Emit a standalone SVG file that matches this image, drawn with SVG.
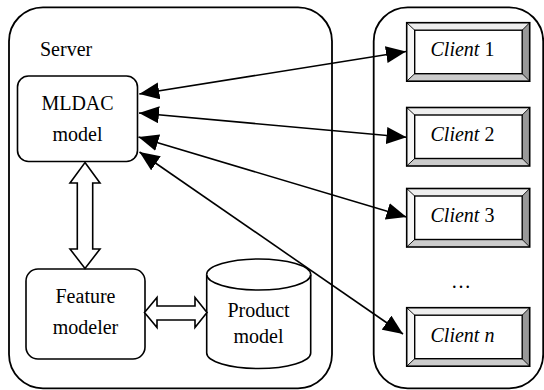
<svg xmlns="http://www.w3.org/2000/svg" width="544" height="390" viewBox="0 0 544 390">
<defs>
<style>
text{font-family:"Liberation Serif","Tinos","Times New Roman","Nimbus Roman","DejaVu Serif",serif;font-size:20px;fill:#000}
.c{text-anchor:middle}
.box{fill:#fff;stroke:#000;stroke-width:1.6}
.cont{fill:#fff;stroke:#000;stroke-width:1.8}
.conn{stroke:#000;stroke-width:1.6;fill:none;marker-start:url(#ah);marker-end:url(#ah)}
.bt{fill:#eeeeee}.bl{fill:#f6f6f6}.br{fill:#999999}.bb{fill:#cccccc}
.bo{fill:none;stroke:#000;stroke-width:1.6}
.bi{fill:#fff;stroke:#000;stroke-width:1.4}
.bd{stroke:#000;stroke-width:0.9}
</style>
<marker id="ah" markerUnits="userSpaceOnUse" markerWidth="20" markerHeight="17" refX="20" refY="8.5" orient="auto-start-reverse" viewBox="0 0 20 17">
<path d="M0,0 L20,8.5 L0,17 z" fill="#000"/>
</marker>
<g id="bevel">
<polygon class="bt" points="0,0 123,0 115.5,7.5 8,7.5"/>
<polygon class="bl" points="0,0 8,7.5 8,51 0,58.5"/>
<polygon class="br" points="123,0 123,58.5 115.5,51 115.5,7.5"/>
<polygon class="bb" points="0,58.5 8,51 115.5,51 123,58.5"/>
<line class="bd" x1="0" y1="0" x2="8" y2="7.5"/>
<line class="bd" x1="123" y1="0" x2="115.5" y2="7.5"/>
<line class="bd" x1="0" y1="58.5" x2="8" y2="51"/>
<line class="bd" x1="123" y1="58.5" x2="115.5" y2="51"/>
<rect class="bi" x="8" y="7.5" width="107.5" height="43.5"/>
<rect class="bo" x="0" y="0" width="123" height="58.5"/>
</g>
</defs>
<rect width="544" height="390" fill="#fff"/>
<g id="server">
<rect class="cont" x="9" y="7.3" width="323" height="381" rx="34" ry="34"/>
<text x="40" y="56" font-family="Liberation Serif, DejaVu Serif, serif">Server</text>
</g>
<g id="clients-area">
<rect class="cont" x="373.7" y="7.3" width="169.5" height="381" rx="34" ry="34"/>
<text class="c" x="461" y="288">…</text>
</g>
<g id="mldac">
<rect class="box" x="17.5" y="76" width="120" height="85.5" rx="11" ry="11"/>
<text class="c" x="77.5" y="110">MLDAC</text>
<text class="c" x="77.5" y="141">model</text>
</g>
<g id="feature">
<rect class="box" x="26" y="269" width="119" height="90" rx="12" ry="12"/>
<text class="c" x="85.5" y="302.5">Feature</text>
<text class="c" x="85.5" y="334">modeler</text>
</g>
<g id="product">
<path class="box" d="M206.7,274.5 L206.7,353 A52,15.5 0 0 0 310.7,353 L310.7,274.5 A52,15.5 0 0 0 206.7,274.5 Z"/>
<path class="box" d="M206.7,274.5 A52,15.5 0 0 0 310.7,274.5" fill="none"/>
<text class="c" x="258.5" y="316.5">Product</text>
<text class="c" x="258.5" y="342.5">model</text>
</g>
<g id="client1">
<use href="#bevel" transform="translate(406.7,22.7)"/>
<text x="430.5" y="55.7"><tspan font-style="italic">Client</tspan> 1</text>
</g>
<g id="client2">
<use href="#bevel" transform="translate(406.7,107.5)"/>
<text x="430.5" y="140.5"><tspan font-style="italic">Client</tspan> 2</text>
</g>
<g id="client3">
<use href="#bevel" transform="translate(406.7,188.5)"/>
<text x="430.5" y="221.7"><tspan font-style="italic">Client</tspan> 3</text>
</g>
<g id="clientn">
<use href="#bevel" transform="translate(406.7,307.7)"/>
<text x="430.5" y="341.7" font-style="italic">Client n</text>
</g>
<g id="connectors">
<line class="conn" x1="139.3" y1="94" x2="406" y2="51.5"/>
<line class="conn" x1="139" y1="113" x2="406.5" y2="137.3"/>
<line class="conn" x1="138.5" y1="137" x2="406.5" y2="217"/>
<line class="conn" x1="139.5" y1="152" x2="403" y2="334"/>
<polygon class="box" points="85,162.5 100,183 92.7,183 92.7,249 100,249 85,268.5 70,249 77.3,249 77.3,183 70,183"/>
<polygon class="box" points="144.5,312.5 157,297.5 157,306 195,306 195,297.5 207,312.5 195,327.5 195,320 157,320 157,327.5"/>
</g>
</svg>
